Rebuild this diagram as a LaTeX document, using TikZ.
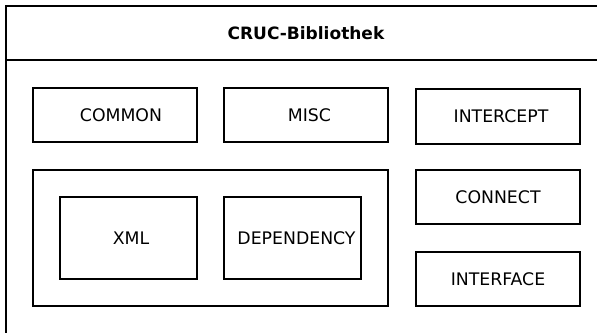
\documentclass[tikz,border=0pt]{standalone}
\usepackage{fontspec}
\setmainfont{DejaVu Sans}
\usetikzlibrary{positioning}
\tikzset{
	modul/.style={
			draw, rectangle, line width=2.2pt, inner sep=0pt,
			minimum width=164pt, minimum height=54pt
		},
	teil/.style={modul, minimum width=137pt, minimum height=82pt}
}
\begin{document}
\begin{tikzpicture}[x=1pt, y=-1pt, line width=2.2pt, font=\fontsize{17.3}{20}\selectfont]

			% Clip to the visible area
			\clip (0,0) rectangle (597,332);
			\fill[white] (0,0) rectangle (597,332);

			% Draw the library frame and its title bar
			\node[draw, rectangle, line width=2.4pt, anchor=north west, minimum width=640pt, minimum height=360pt] (frame) at (5,5) {};
			\node[font=\fontsize{17}{20}\selectfont\bfseries] (title) at (306,33) {CRUC-Bibliothek};
			\coordinate (sepl) at (5,60);
			\coordinate (sepr) at (610,60);
			\draw[line width=2.4pt] (sepl) -- (sepr);

			% Draw the first row of modules
			\node[modul] (common) at (115,115) {\hspace{12pt}COMMON};
			\node[modul] (misc) at (306,115) {\hspace{7pt}MISC};
			\node[modul, minimum height=55pt] (intercept) at (498,116.5) {\hspace{6pt}INTERCEPT};

			% Draw the container with its two parts
			\node[modul, minimum width=355pt, minimum height=136pt] (core) at (210.5,238) {};
			\node[teil] (xml) at (128.5,238) {\hspace{5pt}XML};
			\node[teil] (dependency) at (292.5,238) {\hspace{8pt}DEPENDENCY};

			% Draw the remaining modules on the right
			\node[modul] (connect) at (498,197) {CONNECT};
			\node[modul] (interface) at (498,279) {INTERFACE};

		\end{tikzpicture}
\end{document}
